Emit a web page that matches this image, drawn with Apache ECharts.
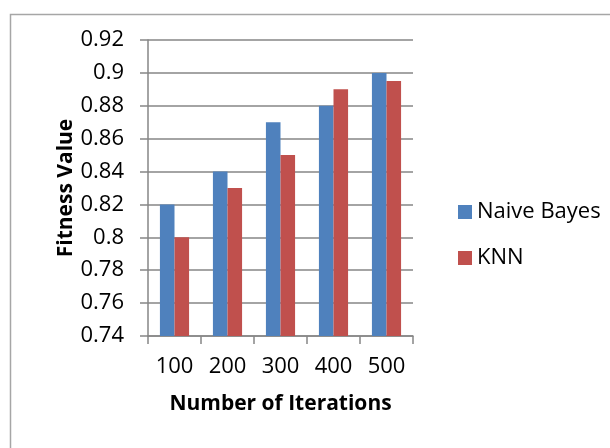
<!DOCTYPE html>
<html>
<head>
<meta charset="utf-8">
<script src="https://cdn.jsdelivr.net/npm/echarts@6/dist/echarts.min.js"></script>
<style>
html,body{margin:0;padding:0;background:#fff;}
#chart{width:610px;height:448px;}
</style>
</head>
<body>
<div id="chart"></div>
<script>
var categories = ['100', '200', '300', '400', '500'];
var naiveBayes = [0.82, 0.84, 0.87, 0.88, 0.90];
var knn = [0.80, 0.83, 0.85, 0.89, 0.895];
var seriesNames = ['Naive Bayes', 'KNN'];
var yMin = 0.74, yMax = 0.92, yStep = 0.02;

var font = '"Open Sans", sans-serif';
var chart = echarts.init(document.getElementById('chart'), null, {renderer: 'canvas'});
chart.setOption({
  animation: false,
  backgroundColor: '#ffffff',
  graphic: [{
    type: 'rect', left: 8, top: 12,
    shape: {x: 0, y: 0, width: 640, height: 470},
    style: {fill: 'none', stroke: '#a6a6a6', lineWidth: 1.5},
    silent: true
  }],
  grid: {left: 148, right: 197, top: 40, bottom: 112},
  legend: {
    orient: 'vertical', left: 453, top: 196,
    itemWidth: 14, itemHeight: 14, itemGap: 24,
    icon: 'rect',
    textStyle: {fontFamily: font, fontSize: 22, color: '#000', lineHeight: 22, padding: [0, 0, 0, 0]},
    data: seriesNames
  },
  xAxis: {
    type: 'category', data: categories,
    name: 'Number of Iterations', nameLocation: 'middle', nameGap: 58,
    nameTextStyle: {fontFamily: font, fontSize: 21, fontWeight: 'bold', color: '#000'},
    axisLine: {lineStyle: {color: '#868686', width: 1.5}},
    axisTick: {show: true, length: 8, lineStyle: {color: '#868686', width: 1.5}},
    axisLabel: {fontFamily: font, fontSize: 22, color: '#000', margin: 20}
  },
  yAxis: {
    type: 'value', min: yMin, max: yMax, interval: yStep,
    name: 'Fitness Value', nameLocation: 'middle', nameGap: 68,
    nameTextStyle: {fontFamily: font, fontSize: 21, fontWeight: 'bold', color: '#000'},
    axisLine: {show: true, lineStyle: {color: '#868686', width: 1.5}},
    axisTick: {show: true, length: 8, lineStyle: {color: '#868686', width: 1.5}},
    splitLine: {lineStyle: {color: '#868686', width: 1.5}},
    axisLabel: {fontFamily: font, fontSize: 22, color: '#000', margin: 24,
      formatter: function (v) { return String(+v.toFixed(2)); }}
  },
  series: [
    {name: seriesNames[0], type: 'bar', data: naiveBayes, barGap: '0%', barCategoryGap: '45%',
     itemStyle: {color: '#4F81BD'}},
    {name: seriesNames[1], type: 'bar', data: knn, barGap: '0%', barCategoryGap: '45%',
     itemStyle: {color: '#C0504D'}}
  ]
});
</script>
</body>
</html>
